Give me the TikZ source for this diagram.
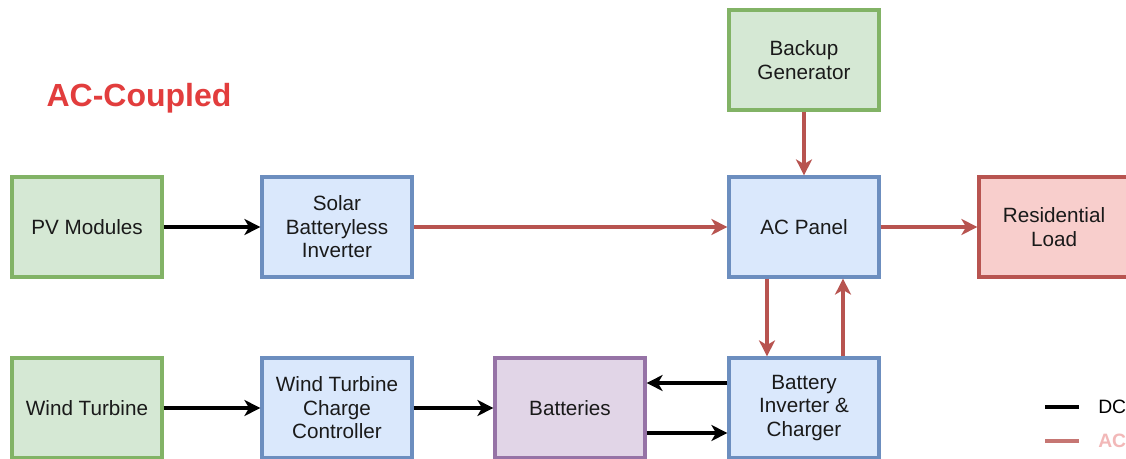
\documentclass[tikz,border=0pt]{standalone}
\usepackage{fontspec}
\setmainfont{Liberation Sans}
\usepackage{xcolor}
\usepackage{tikz}
\usetikzlibrary{arrows.meta}
\definecolor{SourceFill}{HTML}{D5E8D4}
\definecolor{SourceLine}{HTML}{82B366}
\definecolor{UnitFill}{HTML}{DAE8FC}
\definecolor{UnitLine}{HTML}{6C8EBF}
\definecolor{LoadFill}{HTML}{F8CECC}
\definecolor{LoadLine}{HTML}{B85450}
\definecolor{StoreFill}{HTML}{E1D5E7}
\definecolor{StoreLine}{HTML}{9673A6}
\definecolor{TextColor}{HTML}{1A1A1A}
\definecolor{TitleRed}{HTML}{E23D3D}
\definecolor{AcText}{HTML}{F2B8B8}
\tikzset{
	block/.style={draw, line width=2.4pt, minimum width=112.5pt, minimum height=75pt, inner sep=2pt, align=center, text=TextColor, font=\fontsize{15.5}{17.6}\selectfont},
	sourcebox/.style={block, fill=SourceFill, draw=SourceLine},
	unitbox/.style={block, fill=UnitFill, draw=UnitLine},
	loadbox/.style={block, fill=LoadFill, draw=LoadLine},
	storebox/.style={block, fill=StoreFill, draw=StoreLine},
	dcflow/.style={-{Stealth[length=12pt,width=12pt,inset=3.5pt]}, line width=2.3pt, draw=black},
	acflow/.style={-{Stealth[length=12pt,width=12pt,inset=3.5pt]}, line width=2.3pt, draw=LoadLine},
}

\begin{document}
\begin{tikzpicture}[x=0.75pt,y=-0.75pt]
	\useasboundingbox (0,0) rectangle (1126,459);
	\fill[white] (0,0) rectangle (1126,459);

	\node[font=\bfseries\fontsize{24}{28}\selectfont, text=TitleRed] (title) at (139,98) {AC-Coupled};

	\node[sourcebox] (backup) at (804,60) {Backup\\Generator};
	\node[sourcebox] (pv) at (87,227) {PV Modules};
	\node[unitbox] (solarinv) at (337,227) {Solar\\Batteryless\\Inverter};
	\node[unitbox] (acpanel) at (804,227) {AC Panel};
	\node[loadbox] (load) at (1054,227) {Residential\\Load};
	\node[sourcebox] (wind) at (87,408) {Wind Turbine};
	\node[unitbox] (windcc) at (337,408) {Wind Turbine\\Charge\\Controller};
	\node[storebox] (batteries) at (570,408) {Batteries};
	\node[unitbox] (batinv) at (804,408) {Battery\\Inverter \&\\Charger};

	% DC side
	\draw[dcflow] (pv) -- (solarinv);
	\draw[dcflow] (wind) -- (windcc);
	\draw[dcflow] (windcc) -- (batteries);
	\draw[dcflow] ([yshift=18.75pt]batinv.west) -- ([yshift=18.75pt]batteries.east);
	\draw[dcflow] ([yshift=-18.75pt]batteries.east) -- ([yshift=-18.75pt]batinv.west);

	% AC side
	\draw[acflow] (solarinv) -- (acpanel);
	\draw[acflow] (backup) -- (acpanel);
	\draw[acflow] (acpanel) -- (load);
	\draw[acflow] ([xshift=-27.75pt]acpanel.south) -- ([xshift=-27.75pt]batinv.north);
	\draw[acflow] ([xshift=29.25pt]batinv.north) -- ([xshift=29.25pt]acpanel.south);

	% legend
	\node[anchor=west, inner sep=0pt, text=black, font=\fontsize{14.5}{17}\selectfont] (dckey) at (1098,407) {DC};
	\node[anchor=west, inner sep=0pt, text=AcText, font=\bfseries\fontsize{14.5}{17}\selectfont] (ackey) at (1098,441) {AC};
	\coordinate (dcstart) at (1045,407);
	\coordinate (acstart) at (1045,441);
	\draw[line width=3pt, draw=black] (dcstart) -- ([xshift=-14pt]dckey.west);
	\draw[line width=3pt, draw=LoadLine!80!white] (acstart) -- ([xshift=-14pt]ackey.west);
\end{tikzpicture}
\end{document}
